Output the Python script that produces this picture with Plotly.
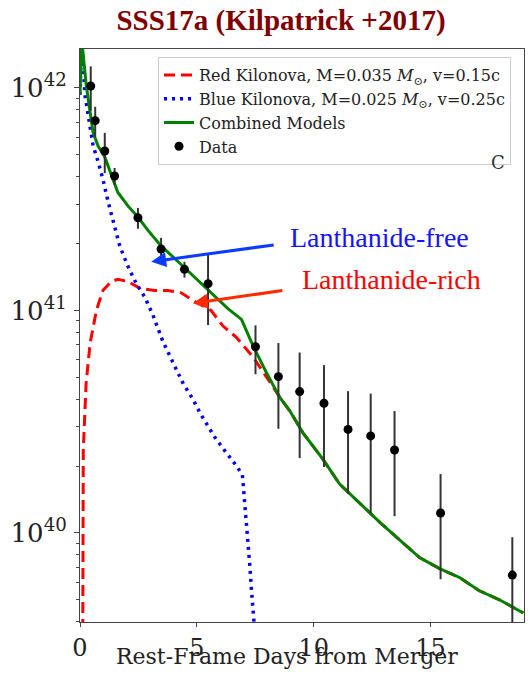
import plotly.graph_objects as go

# Observed bolometric light curve of SSS17a
data_days = [0.46, 0.65, 1.06, 1.48, 2.48, 3.47, 4.47, 5.48, 7.51, 8.49, 9.40,
             10.44, 11.47, 12.44, 13.46, 15.43, 18.50]
data_lum = [1.02e42, 7.13e41, 5.21e41, 4.02e41, 2.61e41, 1.89e41, 1.53e41, 1.32e41,
            6.87e40, 5.04e40, 4.32e40, 3.83e40, 2.92e40, 2.73e40, 2.36e40, 1.23e40, 6.47e39]
data_err = [2.3e41, 1.1e41, 1.07e41, 3.5e40, 2.8e40, 2.3e40, 1.25e40, 4.6e40,
            1.7e40, 2.1e40, 2.15e40, 1.85e40, 1.42e40, 1.5e40, 1.17e40, 6.1e39, 3.1e39]

# Red (lanthanide-rich) kilonova model
red_days = [0.10, 0.12, 0.14, 0.26, 0.43, 0.70, 0.98, 1.34, 1.62, 2.05, 2.55, 3.19,
            3.76, 4.33, 4.90, 5.61, 6.12, 6.68, 7.41, 8.05, 8.55, 8.97, 9.54, 10.40,
            11.11, 12.82, 13.68, 14.53, 15.39, 16.24, 17.09, 17.95, 18.97]
red_lum = [6.31e38, 3.98e39, 2.34e40, 4.68e40, 7.08e40, 1.00e41, 1.23e41, 1.35e41,
           1.38e41, 1.35e41, 1.26e41, 1.23e41, 1.23e41, 1.20e41, 1.10e41, 1.00e41,
           8.51e40, 7.59e40, 6.17e40, 4.90e40, 4.07e40, 3.55e40, 2.82e40, 2.14e40,
           1.66e40, 1.12e40, 9.33e39, 7.76e39, 6.92e39, 6.31e39, 5.50e39, 5.01e39, 4.37e39]

# Blue (lanthanide-free) kilonova model
blue_days = [0.0, 0.07, 0.21, 0.43, 0.56, 0.77, 0.98, 1.20, 1.41, 1.70, 2.05, 2.41,
             2.77, 3.12, 3.55, 3.99, 4.42, 4.84, 5.13, 5.42, 5.77, 6.20, 6.70, 6.95,
             7.02, 7.09, 7.19, 7.27, 7.34, 7.41, 7.48, 7.56]
blue_lum = [9.33e41, 1.66e42, 9.33e41, 6.46e41, 5.50e41, 4.68e41, 3.89e41, 3.09e41,
            2.51e41, 1.95e41, 1.58e41, 1.32e41, 1.15e41, 9.55e40, 7.24e40, 5.75e40,
            4.68e40, 3.98e40, 3.47e40, 3.09e40, 2.69e40, 2.34e40, 2.00e40, 1.82e40,
            1.51e40, 1.23e40, 9.33e39, 7.08e39, 5.50e39, 4.47e39, 3.98e39, 2.82e39]

# Combined (red + blue) model
comb_days = [0.0, 0.07, 0.27, 0.42, 0.56, 0.77, 1.06, 1.34, 1.62, 2.05, 2.48, 2.91,
             3.47, 4.19, 4.90, 5.61, 6.33, 6.91, 7.12, 7.41, 7.98, 8.55, 8.97, 9.54,
             10.40, 11.11, 12.82, 13.68, 14.53, 15.39, 16.24, 17.09, 17.95, 18.97]
comb_lum = [9.33e41, 1.66e42, 1.02e42, 7.76e41, 6.31e41, 5.50e41, 4.90e41, 4.07e41,
            3.39e41, 2.95e41, 2.63e41, 2.29e41, 1.95e41, 1.66e41, 1.41e41, 1.20e41,
            1.02e41, 9.12e40, 8.13e40, 6.92e40, 5.25e40, 4.07e40, 3.55e40, 2.82e40,
            2.14e40, 1.66e40, 1.12e40, 9.33e39, 7.76e39, 6.92e39, 6.31e39, 5.50e39,
            5.01e39, 4.37e39]

x_ticks = [0, 5, 10, 15]
y_ticks = [1e40, 1e41, 1e42]
y_ticktext = ["10<sup>40</sup>", "10<sup>41</sup>", "10<sup>42</sup>"]
y_minor = [m * 10.0 ** e for e in (39, 40, 41) for m in range(2, 10)]

SERIF = "DejaVu Serif"
TIMES = "Liberation Serif"

fig = go.Figure()
fig.add_trace(go.Scatter(
    x=red_days, y=red_lum, mode="lines",
    name="Red Kilonova, M=0.035 <i>M</i><sub>⊙</sub>, v=0.15c",
    line=dict(color="#ff0000", width=3, dash="11px,6px"),
))
fig.add_trace(go.Scatter(
    x=blue_days, y=blue_lum, mode="lines",
    name="Blue Kilonova, M=0.025 <i>M</i><sub>⊙</sub>, v=0.25c",
    line=dict(color="#0000ff", width=3.5, dash="3px,5px"),
))
fig.add_trace(go.Scatter(
    x=comb_days, y=comb_lum, mode="lines", name="Combined Models",
    line=dict(color="#008000", width=3),
))
fig.add_trace(go.Scatter(
    x=data_days, y=data_lum, mode="markers", name="Data",
    marker=dict(color="black", size=9),
    error_y=dict(type="data", array=data_err, color="#333333", thickness=2, width=0),
))

L, R, T, B = 80, 4, 49, 55
W, H = 528, 677
pw, ph = W - L - R, H - T - B

annotations = [
    # arrows pointing at the two model components
    dict(x=3.047, y=41.219, xref="x", yref="y", text="", showarrow=True,
         ax=124, ay=-17, arrowhead=2, arrowsize=1, arrowwidth=3,
         arrowcolor="#0a3cff", standoff=0),
    dict(x=4.83, y=41.032, xref="x", yref="y", text="", showarrow=True,
         ax=91, ay=-13, arrowhead=2, arrowsize=1, arrowwidth=3,
         arrowcolor="#ff2a00", standoff=0),
    dict(x=(288 - L) / pw, y=1 - (237 - T) / ph, xref="paper", yref="paper",
         text="Lanthanide-free", showarrow=False, xanchor="left", yanchor="middle",
         font=dict(family=TIMES, size=28, color="#1414ff")),
    dict(x=(300 - L) / pw, y=1 - (279 - T) / ph, xref="paper", yref="paper",
         text="Lanthanide-rich", showarrow=False, xanchor="left", yanchor="middle",
         font=dict(family=TIMES, size=28, color="#ff0000")),
    dict(x=(498 - L) / pw, y=1 - (162 - T) / ph, xref="paper", yref="paper",
         text="C", showarrow=False, xanchor="center", yanchor="middle",
         font=dict(family=SERIF, size=18, color="#333333")),
    # x-axis title
    dict(x=(287 - L) / pw, y=1 - (656 - T) / ph, xref="paper", yref="paper",
         text="Rest-Frame Days from Merger", showarrow=False,
         xanchor="center", yanchor="middle",
         font=dict(family=SERIF, size=22, color="#222222")),
]

fig.update_layout(
    width=W, height=H,
    margin=dict(l=L, r=R, t=T, b=B),
    paper_bgcolor="white", plot_bgcolor="white",
    title=dict(text="<b>SSS17a (Kilpatrick +2017)</b>", x=281 / W, xanchor="center",
               y=1 - 20 / H, yanchor="middle", xref="container", yref="container",
               font=dict(family=TIMES, size=29, color="#800000")),
    xaxis=dict(range=[0, 19], tickvals=x_ticks, ticks="outside", ticklen=4,
               tickcolor="#444444", showgrid=False, zeroline=False,
               showline=True, mirror=True, linecolor="#444444", linewidth=1,
               tickfont=dict(family=SERIF, size=24, color="#222222"),
               ticklabelstandoff=0),
    yaxis=dict(type="log", range=[39.6, 42.175], tickvals=y_ticks, ticktext=y_ticktext,
               ticks="outside", ticklen=5, tickcolor="#444444",
               minor=dict(tickvals=y_minor, ticks="outside", ticklen=3,
                          tickcolor="#444444", showgrid=False),
               showgrid=False, zeroline=False,
               showline=True, mirror=True, linecolor="#444444", linewidth=1,
               tickfont=dict(family=SERIF, size=26, color="#222222"),
               ticklabelstandoff=2),
    legend=dict(x=(158 - L) / pw, y=1 - (57 - T) / ph, xanchor="left", yanchor="top",
                bgcolor="rgba(255,255,255,0.85)", bordercolor="#cccccc", borderwidth=1,
                font=dict(family=SERIF, size=16, color="#222222"),
                tracegroupgap=0, itemwidth=30),
    annotations=annotations,
    showlegend=True,
)

fig.write_html("out.html")
